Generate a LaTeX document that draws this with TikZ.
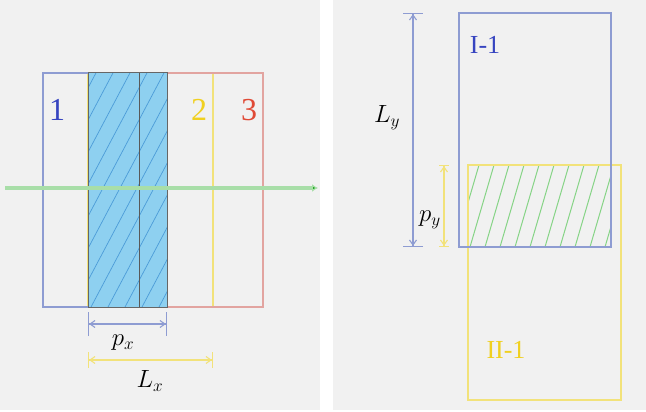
\documentclass[tikz,border=0pt]{standalone}
\usepackage{fontspec}
\setmainfont{Liberation Serif}
\usetikzlibrary{arrows.meta, calc}

\definecolor{panelgray}{HTML}{F1F1F1}
\definecolor{boxblue}{HTML}{8E9CD2}
\definecolor{boxred}{HTML}{E2A4A0}
\definecolor{boxyellow}{HTML}{F2E27A}
\definecolor{shadeblue}{HTML}{8ED0F0}
\definecolor{hatchblue}{HTML}{4C9CD8}
\definecolor{hatchgreen}{HTML}{86D486}
\definecolor{arrowgreen}{HTML}{A8DEA8}
\definecolor{labelblue}{HTML}{3644C0}
\definecolor{labelyellow}{HTML}{F0D020}
\definecolor{labelred}{HTML}{E04A36}

\begin{document}
\begin{tikzpicture}[
					x=1pt, y=-1pt,
					% --- Styles ---
					outline/.style={line width=1.1pt},
					numlabel/.style={font=\fontsize{32}{34}\selectfont, inner sep=0pt},
					dimlabel/.style={font=\fontsize{24}{26}\selectfont, inner sep=0pt},
					dimline/.style={line width=1.1pt,
						{Bar[width=#1]Straight Barb[length=5pt,width=7pt]}-{Straight Barb[length=5pt,width=7pt]Bar[width=#1]}},
					dimline/.default=18pt
					]
					
					\useasboundingbox (0,0) rectangle (646,412);
					
					% --- 0. Panels ---
					\fill [panelgray] (0,0) rectangle (320,410);
					\fill [panelgray] (333,0) rectangle (646,410);
					
					% --- 1. Left panel: the three strips ---
					\coordinate (s1a) at (43,73);  \coordinate (s1b) at (167,307);
					\coordinate (s2a) at (88,73);  \coordinate (s2b) at (213,307);
					\coordinate (s3a) at (139,73); \coordinate (s3b) at (263,307);
					
					\draw [outline, boxyellow] (s2a) rectangle (s2b);
					\draw [outline, boxred] (s3a) rectangle (s3b);
					\draw [outline, boxblue] (s1a) rectangle (s1b);
					
					% Overlap (shaded)
					\fill [shadeblue] (s2a) rectangle (s1b);
					\begin{scope}
						\clip (s2a) rectangle (s1b);
						\foreach \i in {0,...,13}
							\draw [hatchblue, line width=0.7pt] (-45+17*\i,307) -- ++(125,-236);
					\end{scope}
					\draw [gray!70!black, line width=0.5pt] (s3a |- s2a) -- (s3a |- s2b);
					\draw [gray!80!black, line width=1pt] (s2a) rectangle (s1b);
					
					\node [numlabel, labelblue] (n1) at (57,110) {1};
					\node [numlabel, labelyellow] (n2) at (199,110) {2};
					\node [numlabel, labelred] (n3) at (249,110) {3};
					
					% Green axis
					\coordinate (axis_start) at (5,188);
					\coordinate (axis_end) at (318,188);
					\draw [arrowgreen, line width=3.5pt, -{Latex[length=6pt,width=8pt,fill=green!60!black]}] (axis_start) -- (axis_end);
					
					% Dimensions p_x and L_x
					\coordinate (px_a) at (88,324);  \coordinate (px_b) at (167,324);
					\coordinate (lx_a) at (88,360);  \coordinate (lx_b) at (213,360);
					\draw [dimline=24pt, boxblue] (px_a) -- (px_b);
					\draw [dimline=16pt, boxyellow] (lx_a) -- (lx_b);
					\node [dimlabel] (px) at (123,343) {$p_x$};
					\node [dimlabel] (lx) at (150,381) {$L_x$};
					
					% --- 2. Right panel: I-1 and II-1 ---
					\coordinate (b1a) at (459,13);  \coordinate (b1b) at (611,247);
					\coordinate (b2a) at (468,165); \coordinate (b2b) at (621,400);
					
					% Overlap (hatched)
					\begin{scope}
						\clip (b2a) rectangle (b1b);
						\foreach \i in {0,...,12}
							\draw [hatchgreen, line width=1pt] (440+15*\i,247) -- ++(24,-82);
					\end{scope}
					\draw [outline, boxyellow] (b2a) rectangle (b2b);
					\draw [outline, boxblue] (b1a) rectangle (b1b);
					
					\node [numlabel, labelblue, font=\fontsize{26}{28}\selectfont] (t1) at (485,45) {I-1};
					\node [numlabel, labelyellow, font=\fontsize{26}{28}\selectfont] (t2) at (506,350) {II-1};
					
					% Dimensions L_y and p_y
					\coordinate (ly_a) at (413,13);  \coordinate (ly_b) at (413,247);
					\coordinate (py_a) at (444,165); \coordinate (py_b) at (444,247);
					\draw [dimline=20pt, boxblue] (ly_a) -- (ly_b);
					\draw [dimline=10pt, boxyellow] (py_a) -- (py_b);
					\node [dimlabel] (ly) at (387,118) {$L_y$};
					\node [dimlabel] (py) at (430,220) {$p_y$};
					
				\end{tikzpicture}
\end{document}
